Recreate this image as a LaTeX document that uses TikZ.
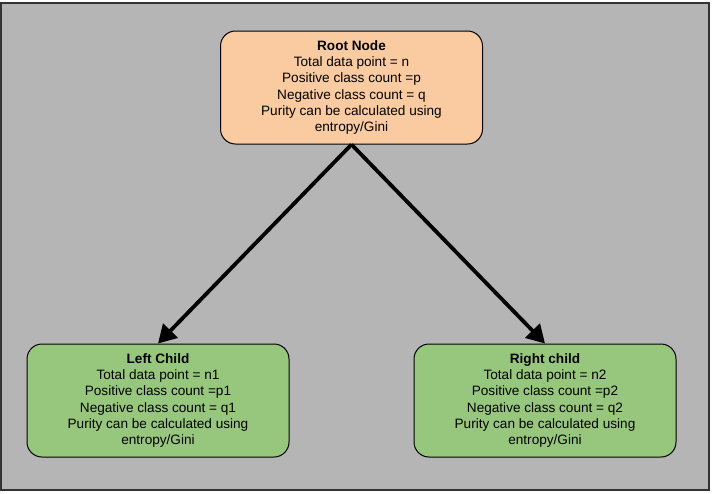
\documentclass[tikz,border=0pt]{standalone}
\usepackage{fontspec}
\setmainfont{Liberation Sans}
\usetikzlibrary{arrows.meta}
\definecolor{bggray}{RGB}{181,181,181}
\definecolor{peach}{RGB}{250,203,160}
\definecolor{leafgreen}{RGB}{151,199,125}
\tikzset{
  x=1pt,y=-1pt,
  box/.style={draw=black,line width=1pt,rounded corners=15pt,minimum width=262pt,minimum height=113pt,align=center,font=\fontsize{13.6pt}{16.3pt}\selectfont,inner sep=0pt},
  conn/.style={line width=3.8pt,-{Triangle[length=18pt,width=20pt]}}
}
\begin{document}
\begin{tikzpicture}
\useasboundingbox (0,0) rectangle (712,493);
\draw[fill=bggray,draw=black!80,line width=1.2pt] (1,3) rectangle (709,490);
\node[box,fill=peach] (root) at (351.5,87.5) {\textbf{Root Node}\\Total data point = n\\Positive class count =p\\Negative class count = q\\Purity can be calculated using\\entropy/Gini};
\node[box,fill=leafgreen] (left) at (158,400.5) {\textbf{Left Child}\\Total data point = n1\\Positive class count =p1\\Negative class count = q1\\Purity can be calculated using\\entropy/Gini};
\node[box,fill=leafgreen] (right) at (545,400.5) {\textbf{Right child}\\Total data point = n2\\Positive class count =p2\\Negative class count = q2\\Purity can be calculated using\\entropy/Gini};
\draw[conn] (root.south) -- (left.north);
\draw[conn] (root.south) -- (right.north);
\end{tikzpicture}
\end{document}
